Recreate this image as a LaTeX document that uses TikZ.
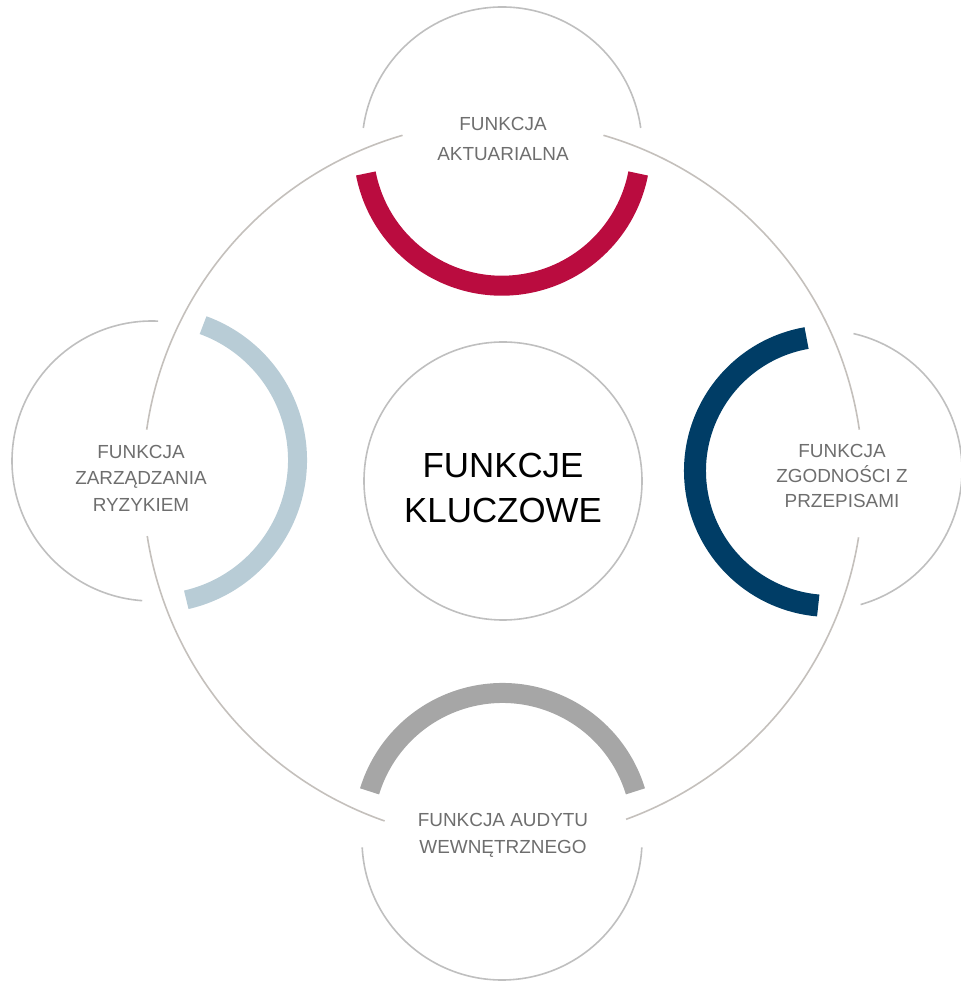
\documentclass[tikz,border=0pt]{standalone}
\usepackage{fontspec}
\setmainfont{Liberation Sans}
\usepackage{xcolor}
\usepackage{tikz}
\definecolor{ringgray}{HTML}{BFBFBF}
\definecolor{bigring}{HTML}{C4C0BC}
\definecolor{crimson}{HTML}{BA0C3F}
\definecolor{navy}{HTML}{003D66}
\definecolor{paleblue}{HTML}{B8CCD6}
\definecolor{midgray}{HTML}{A6A6A6}
\definecolor{labelgray}{HTML}{6E6E6E}
\tikzstyle{ringline} = [draw=ringgray, line width=1.6bp]
\tikzstyle{band} = [line width=20bp]
\tikzstyle{satellite} = [inner sep=0pt, align=center, text=labelgray]

\begin{document}
\begin{tikzpicture}[x=1bp, y=1bp]
    \useasboundingbox (0,0) rectangle (961,981);
    \clip (0,0) rectangle (961,981);

    % Centres
    \coordinate (main) at (503,500);
    \coordinate (ctop) at (502,834);
    \coordinate (cleft) at (152,520);
    \coordinate (cright) at (822,511);
    \coordinate (cbottom) at (502,141);

    % Outer ring, broken at the four labels
    \draw [ringline, draw=bigring] (main) ++(8.2:360) arc[start angle=8.2, end angle=73.8, radius=360];
    \draw [ringline, draw=bigring] (main) ++(106.2:360) arc[start angle=106.2, end angle=171.8, radius=360];
    \draw [ringline, draw=bigring] (main) ++(188.8:360) arc[start angle=188.8, end angle=250.8, radius=360];
    \draw [ringline, draw=bigring] (main) ++(290:360) arc[start angle=290, end angle=351, radius=360];

    % Circles
    \draw [ringline] (main) circle[radius=139];
    \draw [ringline] (ctop) ++(7.8:140) arc[start angle=7.8, end angle=172.2, radius=140];
    \draw [ringline] (cleft) ++(87.5:140) arc[start angle=87.5, end angle=266, radius=140];
    \draw [ringline] (cright) ++(-74:140) arc[start angle=-74, end angle=77, radius=140];
    \draw [ringline] (cbottom) ++(183:140) arc[start angle=183, end angle=357, radius=140];

    % Coloured bands
    \draw [band, crimson] (ctop) ++(191:138.7) arc[start angle=191, end angle=349, radius=138.7];
    \draw [band, paleblue, line width=19bp] (154,521) ++(-77:143.5) arc[start angle=-77, end angle=70, radius=143.5];
    \draw [band, navy, line width=22bp] (830,510) ++(100:135) arc[start angle=100, end angle=265, radius=135];
    \draw [band, midgray] (502.5,149) ++(17:139) arc[start angle=17, end angle=163, radius=139];

    % Labels
    \node (kluczowe) at (503,493) [inner sep=0pt, align=center, font=\fontsize{35}{45}\selectfont] {FUNKCJE\\KLUCZOWE};
    \node (aktuarialna) at (503,842) [satellite, font=\fontsize{19}{30}\selectfont] {FUNKCJA\\AKTUARIALNA};
    \node (ryzyko) at (141,503) [satellite, font=\fontsize{19}{26.5}\selectfont] {FUNKCJA\\ZARZĄDZANIA\\RYZYKIEM};
    \node (zgodnosc) at (842,505) [satellite, font=\fontsize{19}{25}\selectfont] {FUNKCJA\\ZGODNOŚCI Z\\PRZEPISAMI};
    \node (audyt) at (503,145.5) [satellite, font=\fontsize{19}{27.3}\selectfont] {FUNKCJA AUDYTU\\WEWNĘTRZNEGO};

\end{tikzpicture}
\end{document}
